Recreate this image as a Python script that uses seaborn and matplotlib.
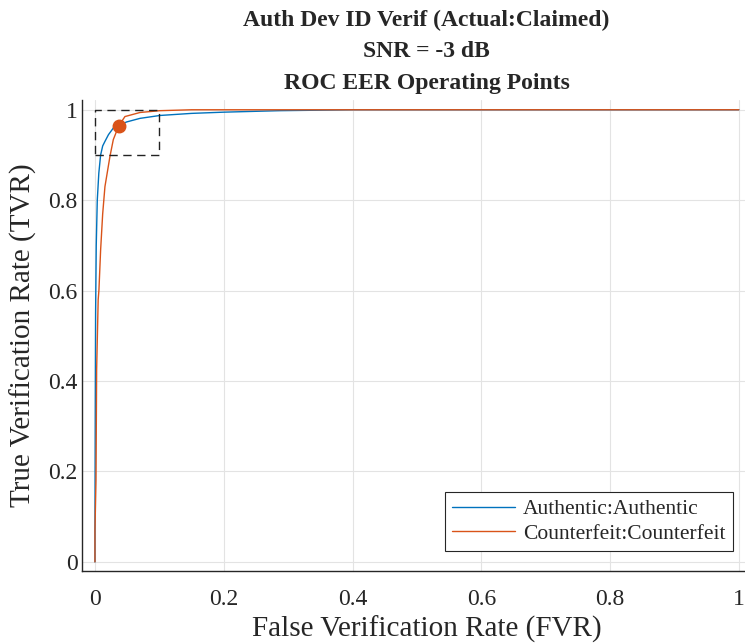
import numpy as np
import pandas as pd
import seaborn as sns
import matplotlib.pyplot as plt
from matplotlib.ticker import FormatStrFormatter

# ROC curve points
auth_fpr = [0, 0, 0.0005, 0.001, 0.002, 0.0036, 0.006, 0.0088, 0.012, 0.0155, 0.021,
            0.0285, 0.037, 0.049, 0.07, 0.101, 0.15, 0.2, 0.287, 0.4, 0.6, 1.0]
auth_tpr = [0, 0.07, 0.35, 0.55, 0.70, 0.80, 0.86, 0.90, 0.92, 0.930, 0.945,
            0.9595, 0.9646, 0.973, 0.981, 0.9874, 0.992, 0.9947, 0.998, 1.0, 1.0, 1.0]

cntf_fpr = [0, 0, 0.0016, 0.0026, 0.005, 0.0062, 0.0088, 0.012, 0.0155, 0.0233,
            0.0285, 0.037, 0.0466, 0.07, 0.101, 0.15, 0.3, 1.0]
cntf_tpr = [0, 0.07, 0.181, 0.425, 0.58, 0.602, 0.690, 0.77, 0.830, 0.897,
            0.934, 0.9646, 0.985, 0.994, 0.998, 1.0, 1.0, 1.0]

labels = ["Authentic:Authentic", "Counterfeit:Counterfeit"]
colors = ["#0072BD", "#D95319"]

eer_fpr = [0.037]
eer_tpr = [0.9646]

zoom_box_x = [0, 0.1, 0.1, 0, 0]
zoom_box_y = [0.9, 0.9, 1.0, 1.0, 0.9]

ticks = [0, 0.2, 0.4, 0.6, 0.8, 1]

df = pd.concat([
    pd.DataFrame({"fpr": auth_fpr, "tpr": auth_tpr, "pair": labels[0]}),
    pd.DataFrame({"fpr": cntf_fpr, "tpr": cntf_tpr, "pair": labels[1]}),
])

sns.set_style("white")
plt.rcParams["font.family"] = ["Liberation Serif", "DejaVu Serif"]

fig = plt.figure(figsize=(7.45, 6.44), dpi=100)
# the axes runs a little past the right edge of the figure, as in the original
ax = fig.add_axes([0.110, 0.1134, 0.925, 0.7316])

sns.lineplot(data=df, x="fpr", y="tpr", hue="pair", palette=colors,
             estimator=None, sort=False, linewidth=1.0, ax=ax)

ax.plot(zoom_box_x, zoom_box_y, color="#222222", linestyle=(0, (6, 4)), linewidth=1.0)
ax.plot(eer_fpr, eer_tpr, "o", color=colors[1], markersize=9)

ax.set_xlim(-0.0202, 1.05)
ax.set_ylim(-0.02, 1.022)
ax.set_xticks(ticks)
ax.set_yticks(ticks)
ax.xaxis.set_major_formatter(FormatStrFormatter("%g"))
ax.yaxis.set_major_formatter(FormatStrFormatter("%g"))
ax.grid(True, color="#e3e3e3", linewidth=0.8)
ax.set_axisbelow(True)
for s in ["top", "right"]:
    ax.spines[s].set_visible(False)
for s in ["left", "bottom"]:
    ax.spines[s].set_color("#262626")
    ax.spines[s].set_linewidth(1.0)
ax.tick_params(direction="in", length=5, width=1, color="#262626",
               labelsize=17, labelcolor="#262626")
ax.tick_params(axis="x", pad=13)
ax.tick_params(axis="y", pad=3)

ax.set_xlabel("False Verification Rate (FVR)", fontsize=21, color="#262626", labelpad=4)
ax.set_ylabel("True Verification Rate (TVR)", fontsize=21, color="#262626", labelpad=8)
ax.set_title("Auth Dev ID Verif (Actual:Claimed)\nSNR = -3 dB\nROC EER Operating Points",
             fontsize=17, fontweight="bold", linespacing=1.65, pad=8)

leg = ax.legend(loc="lower right", fontsize=15.5, frameon=True, fancybox=False,
                framealpha=1, edgecolor="#262626", borderpad=0.35,
                handlelength=2.9, handletextpad=0.4, labelspacing=0.2,
                borderaxespad=0, bbox_to_anchor=(0.945, 0.042))
leg.get_frame().set_linewidth(0.8)

fig.savefig("out.png", dpi=100)
